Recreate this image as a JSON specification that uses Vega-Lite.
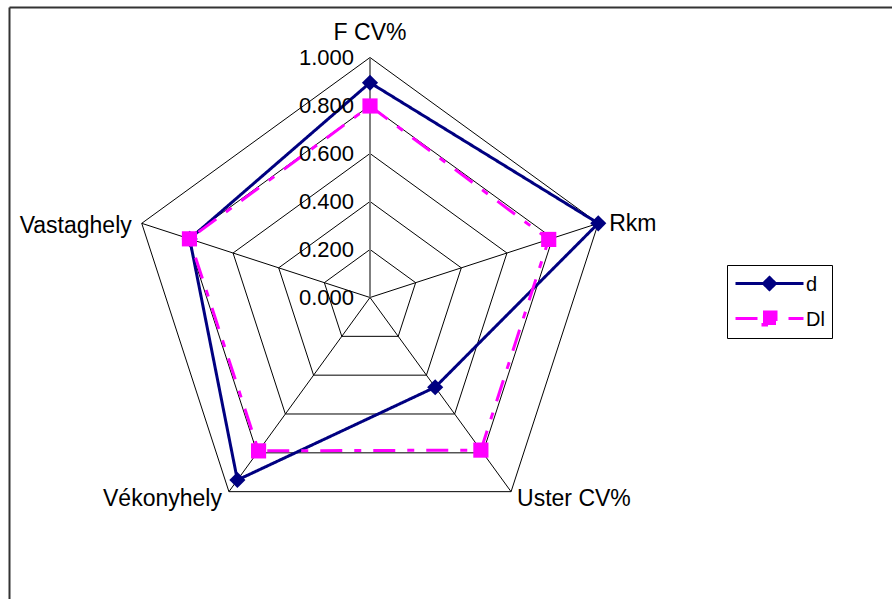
{
  "$schema": "https://vega.github.io/schema/vega-lite/v6.json",
  "width": 892,
  "height": 599,
  "autosize": {"type": "fit", "contains": "padding"},
  "padding": {"left": 9, "top": 7, "right": 0, "bottom": 0},
  "background": "white",
  "config": {"view": {"stroke": null}, "font": "Liberation Sans"},
  "datasets": {
    "series": [
      {"axis": "F CV%", "idx": 0, "series": "d", "value": 0.895},
      {"axis": "Rkm", "idx": 1, "series": "d", "value": 1.0},
      {"axis": "Uster CV%", "idx": 2, "series": "d", "value": 0.462},
      {"axis": "Vékonyhely", "idx": 3, "series": "d", "value": 0.94},
      {"axis": "Vastaghely", "idx": 4, "series": "d", "value": 0.79},
      {"axis": "F CV%", "idx": 0, "series": "Dl", "value": 0.798},
      {"axis": "Rkm", "idx": 1, "series": "Dl", "value": 0.783},
      {"axis": "Uster CV%", "idx": 2, "series": "Dl", "value": 0.786},
      {"axis": "Vékonyhely", "idx": 3, "series": "Dl", "value": 0.79},
      {"axis": "Vastaghely", "idx": 4, "series": "Dl", "value": 0.791}
    ],
    "grid": [
      {"level": 0.2, "idx": [0, 1, 2, 3, 4]},
      {"level": 0.4, "idx": [0, 1, 2, 3, 4]},
      {"level": 0.6, "idx": [0, 1, 2, 3, 4]},
      {"level": 0.8, "idx": [0, 1, 2, 3, 4]},
      {"level": 1.0, "idx": [0, 1, 2, 3, 4]}
    ],
    "axes": [
      {"axis": "F CV%", "idx": 0},
      {"axis": "Rkm", "idx": 1},
      {"axis": "Uster CV%", "idx": 2},
      {"axis": "Vékonyhely", "idx": 3},
      {"axis": "Vastaghely", "idx": 4}
    ],
    "ticks": [
      {"level": 0}, {"level": 0.2}, {"level": 0.4}, {"level": 0.6}, {"level": 0.8}, {"level": 1.0}
    ]
  },
  "encoding": {
    "x": {
      "field": "px", "type": "quantitative",
      "scale": {"domain": [-1.50417, 2.175], "nice": false, "zero": false},
      "axis": {"orient": "top", "domainColor": "#333333", "domainWidth": 2, "ticks": false, "labels": false, "grid": false, "title": null}
    },
    "y": {
      "field": "py", "type": "quantitative",
      "scale": {"domain": [-1.25625, 1.21042], "nice": false, "zero": false},
      "axis": {"orient": "left", "domainColor": "#333333", "domainWidth": 2, "ticks": false, "labels": false, "grid": false, "title": null}
    }
  },
  "layer": [
    {
      "data": {"name": "grid"},
      "transform": [
        {"flatten": ["idx"]},
        {"calculate": "PI/2 - datum.idx*2*PI/5", "as": "theta"},
        {"calculate": "datum.level*cos(datum.theta)", "as": "px"},
        {"calculate": "datum.level*sin(datum.theta)", "as": "py"}
      ],
      "mark": {"type": "line", "interpolate": "linear-closed", "color": "black", "strokeWidth": 1},
      "encoding": {"detail": {"field": "level", "type": "nominal"}, "order": {"field": "idx", "type": "quantitative"}}
    },
    {
      "data": {"name": "axes"},
      "transform": [
        {"calculate": "PI/2 - datum.idx*2*PI/5", "as": "theta"},
        {"calculate": "cos(datum.theta)", "as": "px"},
        {"calculate": "sin(datum.theta)", "as": "py"}
      ],
      "mark": {"type": "rule", "color": "black", "strokeWidth": 1},
      "encoding": {"x2": {"datum": 0}, "y2": {"datum": 0}}
    },
    {
      "data": {"name": "axes"},
      "transform": [
        {"filter": "datum.idx == 0"},
        {"calculate": "0", "as": "px"},
        {"calculate": "1", "as": "py"}
      ],
      "mark": {"type": "rule", "color": "#7f7f7f", "strokeWidth": 2},
      "encoding": {"x2": {"datum": 0}, "y2": {"datum": 0}}
    },
    {
      "data": {"name": "series"},
      "transform": [
        {"calculate": "PI/2 - datum.idx*2*PI/5", "as": "theta"},
        {"calculate": "datum.value*cos(datum.theta)", "as": "px"},
        {"calculate": "datum.value*sin(datum.theta)", "as": "py"}
      ],
      "mark": {"type": "line", "interpolate": "linear-closed", "strokeWidth": 3},
      "encoding": {
        "color": {
          "field": "series", "type": "nominal",
          "scale": {"domain": ["d", "Dl"], "range": ["#000080", "#FF00FF"]},
          "legend": {
            "orient": "none", "legendX": 718, "legendY": 258, "title": null,
            "padding": 7, "strokeColor": "black", "fillColor": "white",
            "labelFont": "Liberation Sans", "labelFontSize": 20, "labelColor": "black",
            "labelBaseline": "alphabetic",
            "labelOffset": 49, "symbolSize": 400, "symbolStrokeWidth": 3, "rowPadding": 10,
            "encode": {
              "labels": {"update": {"dy": {"value": 7}}},
              "symbols": {
                "update": {
                  "shape": {"signal": "datum.value === 'd' ? 'M-1,0H5.8M1.8,0L2.4,-0.6L3,0L2.4,0.6Z' : 'M-1,0H5.8M1.75,-0.65H3.05V0.65H1.75Z'"},
                  "fill": {"signal": "datum.value === 'd' ? '#000080' : '#FF00FF'"},
                  "stroke": {"signal": "datum.value === 'd' ? '#000080' : '#FF00FF'"},
                  "strokeDash": {"signal": "datum.value === 'd' ? [1,0] : [22,12,7,12]"},
                  "strokeWidth": {"value": 3}
                }
              }
            }
          }
        },
        "strokeDash": {
          "field": "series", "type": "nominal",
          "scale": {"domain": ["d", "Dl"], "range": [[1, 0], [22, 12, 7, 12]]},
          "legend": null
        },
        "order": {"field": "idx", "type": "quantitative"}
      }
    },
    {
      "data": {"name": "series"},
      "transform": [
        {"filter": "datum.series === 'd'"},
        {"calculate": "PI/2 - datum.idx*2*PI/5", "as": "theta"},
        {"calculate": "datum.value*cos(datum.theta)", "as": "px"},
        {"calculate": "datum.value*sin(datum.theta)", "as": "py"}
      ],
      "mark": {"type": "point", "shape": "diamond", "filled": true, "size": 260, "opacity": 1, "strokeWidth": 0, "color": "#000080"}
    },
    {
      "data": {"name": "series"},
      "transform": [
        {"filter": "datum.series === 'Dl'"},
        {"calculate": "PI/2 - datum.idx*2*PI/5", "as": "theta"},
        {"calculate": "datum.value*cos(datum.theta)", "as": "px"},
        {"calculate": "datum.value*sin(datum.theta)", "as": "py"}
      ],
      "mark": {"type": "point", "shape": "square", "filled": true, "size": 230, "opacity": 1, "strokeWidth": 0, "color": "#FF00FF"}
    },
    {
      "data": {"name": "ticks"},
      "transform": [
        {"calculate": "0", "as": "px"},
        {"calculate": "datum.level", "as": "py"}
      ],
      "mark": {"type": "text", "align": "right", "baseline": "middle", "dx": -16, "fontSize": 22, "font": "Liberation Sans", "color": "black"},
      "encoding": {"text": {"field": "level", "type": "quantitative", "format": ".3f"}}
    },
    {
      "data": {"name": "axes"},
      "transform": [
        {"filter": "datum.idx == 0"},
        {"calculate": "PI/2 - datum.idx*2*PI/5", "as": "theta"},
        {"calculate": "cos(datum.theta)", "as": "px"},
        {"calculate": "sin(datum.theta)", "as": "py"}
      ],
      "mark": {"type": "text", "align": "center", "baseline": "alphabetic", "dy": -18, "fontSize": 23, "font": "Liberation Sans", "color": "black"},
      "encoding": {"text": {"field": "axis", "type": "nominal"}}
    },
    {
      "data": {"name": "axes"},
      "transform": [
        {"filter": "datum.idx == 1"},
        {"calculate": "PI/2 - datum.idx*2*PI/5", "as": "theta"},
        {"calculate": "cos(datum.theta)", "as": "px"},
        {"calculate": "sin(datum.theta)", "as": "py"}
      ],
      "mark": {"type": "text", "align": "left", "baseline": "alphabetic", "dx": 11, "dy": 8, "fontSize": 23, "font": "Liberation Sans", "color": "black"},
      "encoding": {"text": {"field": "axis", "type": "nominal"}}
    },
    {
      "data": {"name": "axes"},
      "transform": [
        {"filter": "datum.idx == 2"},
        {"calculate": "PI/2 - datum.idx*2*PI/5", "as": "theta"},
        {"calculate": "cos(datum.theta)", "as": "px"},
        {"calculate": "sin(datum.theta)", "as": "py"}
      ],
      "mark": {"type": "text", "align": "left", "baseline": "alphabetic", "dx": 6, "dy": 14, "fontSize": 23, "font": "Liberation Sans", "color": "black"},
      "encoding": {"text": {"field": "axis", "type": "nominal"}}
    },
    {
      "data": {"name": "axes"},
      "transform": [
        {"filter": "datum.idx == 3"},
        {"calculate": "PI/2 - datum.idx*2*PI/5", "as": "theta"},
        {"calculate": "cos(datum.theta)", "as": "px"},
        {"calculate": "sin(datum.theta)", "as": "py"}
      ],
      "mark": {"type": "text", "align": "right", "baseline": "alphabetic", "dx": -7, "dy": 14, "fontSize": 23, "font": "Liberation Sans", "color": "black"},
      "encoding": {"text": {"field": "axis", "type": "nominal"}}
    },
    {
      "data": {"name": "axes"},
      "transform": [
        {"filter": "datum.idx == 4"},
        {"calculate": "PI/2 - datum.idx*2*PI/5", "as": "theta"},
        {"calculate": "cos(datum.theta)", "as": "px"},
        {"calculate": "sin(datum.theta)", "as": "py"}
      ],
      "mark": {"type": "text", "align": "right", "baseline": "alphabetic", "dx": -10, "dy": 10, "fontSize": 23, "font": "Liberation Sans", "color": "black"},
      "encoding": {"text": {"field": "axis", "type": "nominal"}}
    }
  ]
}
